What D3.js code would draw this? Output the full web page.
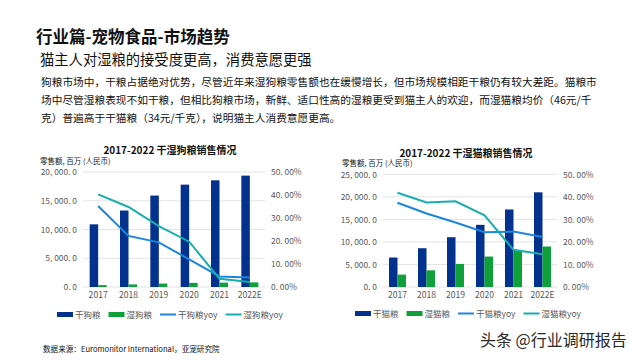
<!DOCTYPE html>
<html><head><meta charset="utf-8">
<script src="https://cdn.jsdelivr.net/npm/d3@7"></script>
<style>
html,body{margin:0;padding:0;background:#fff;}
svg{display:block;font-family:"Noto Sans CJK SC","Noto Sans",sans-serif;}
</style></head>
<body><svg id="c" width="640" height="360"></svg>
<script>
// ---- Data ----
const years = ["2017", "2018", "2019", "2020", "2021", "2022E"];
const dryDog = [10900, 13300, 15900, 17800, 18550, 19370];
const wetDog = [330, 450, 600, 720, 760, 800];
const dryDogYoy = [35.2, 22.2, 19.4, 12.0, 4.6, 4.1];
const wetDogYoy = [40.3, 34.8, 26.5, 19.7, 3.6, 2.2];
const dryCat = [6540, 8600, 11050, 13790, 17200, 21000];
const wetCat = [2750, 3700, 5120, 6750, 8000, 8980];
const dryCatYoy = [37.4, 32.6, 28.6, 24.3, 24.6, 22.2];
const wetCatYoy = [41.8, 37.5, 38.0, 31.8, 16.5, 14.5];
const dogLeftTicks = [0, 5000, 10000, 15000, 20000];
const catLeftTicks = [0, 5000, 10000, 15000, 20000, 25000];
const rightTicks = [0, 10, 20, 30, 40, 50];
const dogLegend = ["干狗粮", "湿狗粮", "干狗粮yoy", "湿狗粮yoy"];
const catLegend = ["干猫粮", "湿猫粮", "干猫粮yoy", "湿猫粮yoy"];
const pageTitle = "行业篇-宠物食品-市场趋势";
const subTitle = "猫主人对湿粮的接受度更高，消费意愿更强";
const paragraph = [
  "狗粮市场中，干粮占据绝对优势，尽管近年来湿狗粮零售额也在缓慢增长，但市场规模相距干粮仍有较大差距。猫粮市",
  "场中尽管湿粮表现不如干粮，但相比狗粮市场，新鲜、适口性高的湿粮更受到猫主人的欢迎，而湿猫粮均价（46元/千",
  "克）普遍高于干猫粮（34元/千克），说明猫主人消费意愿更高。"
];
const source = "数据来源：Euromonitor International，亚宠研究院";
const watermark = "头条 @行业调研报告";

const C_DRY = "#02318e", C_WET = "#0ea13a", C_DRYY = "#1b86dc", C_WETY = "#19adae";
const GRAY = "#595959";

const svg = d3.select("#c");

svg.append("text").attr("x", 36).attr("y", 43).attr("font-size", 16.5).attr("font-weight", "bold")
  .attr("fill", "#111").text(pageTitle);
svg.append("text").attr("x", 40).attr("y", 65).attr("font-size", 14.3)
  .attr("fill", "#111").text(subTitle);
paragraph.forEach((t, i) => {
  svg.append("text").attr("x", 41).attr("y", 85.5 + i * 18).attr("font-size", 10.7)
    .attr("fill", "#111").text(t);
});
svg.append("text").attr("x", 43).attr("y", 352).attr("font-size", 7.6).attr("fill", "#111").text(source);
svg.append("text").attr("x", 480).attr("y", 346).attr("font-size", 16).attr("fill", "#2a2a2a").text(watermark);

function drawChart(cfg) {
  const g = svg.append("g");
  const x = d3.scaleBand().domain(years).range([cfg.x0, cfg.x1]);
  const y = d3.scaleLinear().domain([0, cfg.yMax]).range([287, cfg.yTop]);
  const y2 = d3.scaleLinear().domain([0, 50]).range([287, cfg.yTop]);

  g.append("text").attr("x", cfg.titleX).attr("y", cfg.titleY).attr("text-anchor", "middle")
    .attr("font-size", 10).attr("font-weight", "bold").attr("fill", "#111").text(cfg.title);
  g.append("text").attr("x", cfg.unitX).attr("y", cfg.unitY).attr("font-size", 7.5)
    .attr("fill", "#222").text("零售额, 百万 (人民币)");

  // grid
  g.selectAll(".grid").data(cfg.leftTicks).join("line")
    .attr("x1", cfg.x0).attr("x2", cfg.x1).attr("y1", d => y(d)).attr("y2", d => y(d))
    .attr("stroke", "#e3e3e3").attr("stroke-width", 1);

  // left axis
  const ya = d3.axisLeft(y).tickValues(cfg.leftTicks).tickSize(0).tickPadding(0)
    .tickFormat(d => d3.format(",.1f")(d).replace(",", ", ").replace(".", ". "));
  const yg = g.append("g").attr("transform", `translate(${cfg.x0 - 6},0)`).call(ya);
  yg.select(".domain").remove();
  yg.selectAll("text").attr("font-size", 8.4).attr("fill", GRAY)
    .attr("font-family", "'Noto Sans CJK SC',sans-serif");

  // right axis
  const ya2 = d3.axisRight(y2).tickValues(rightTicks).tickSize(0).tickPadding(0)
    .tickFormat(d => d3.format(".2f")(d).replace(".", ". ") + "%");
  const yg2 = g.append("g").attr("transform", `translate(${cfg.x1 + 6},0)`).call(ya2);
  yg2.select(".domain").remove();
  yg2.selectAll("text").attr("font-size", 8.4).attr("fill", GRAY)
    .attr("font-family", "'Noto Sans CJK SC',sans-serif");

  // x axis
  const xa = d3.axisBottom(x).tickSize(0).tickPadding(0);
  const xg = g.append("g").attr("transform", `translate(0,${292})`).call(xa);
  xg.select(".domain").remove();
  xg.selectAll("text").attr("font-size", 8.6).attr("fill", GRAY).attr("dy", "0.75em")
    .attr("font-family", "'Noto Sans CJK SC',sans-serif");

  const bw = cfg.bw;
  g.selectAll(".dry").data(years).join("rect")
    .attr("x", d => x(d) + x.bandwidth() / 2 - bw).attr("width", bw)
    .attr("y", (d, i) => y(cfg.dry[i])).attr("height", (d, i) => y(0) - y(cfg.dry[i]))
    .attr("fill", C_DRY);
  g.selectAll(".wet").data(years).join("rect")
    .attr("x", d => x(d) + x.bandwidth() / 2).attr("width", bw)
    .attr("y", (d, i) => y(cfg.wet[i])).attr("height", (d, i) => y(0) - y(cfg.wet[i]))
    .attr("fill", C_WET);

  const line = d3.line().x((d, i) => x(years[i]) + x.bandwidth() / 2).y(d => y2(d));
  g.append("path").datum(cfg.dryY).attr("d", line).attr("fill", "none")
    .attr("stroke", C_DRYY).attr("stroke-width", 2);
  g.append("path").datum(cfg.wetY).attr("d", line).attr("fill", "none")
    .attr("stroke", C_WETY).attr("stroke-width", 2);

  // legend
  const colors = [C_DRY, C_WET, C_DRYY, C_WETY];
  let lx = cfg.legX;
  const ly = cfg.legY;
  cfg.legend.forEach((name, i) => {
    if (i < 2) {
      g.append("rect").attr("x", lx).attr("y", ly - 2.5).attr("width", 16).attr("height", 5).attr("fill", colors[i]);
    } else {
      g.append("line").attr("x1", lx).attr("x2", lx + 16).attr("y1", ly).attr("y2", ly)
        .attr("stroke", colors[i]).attr("stroke-width", 2);
    }
    const t = g.append("text").attr("x", lx + 18).attr("y", ly + 3).attr("font-size", 8.5)
      .attr("fill", GRAY).text(name);
    lx += 18 + t.node().getComputedTextLength() + 8;
  });
}

drawChart({
  title: "2017-2022  干湿狗粮销售情况", titleX: 170, titleY: 154, unitX: 40, unitY: 163.5,
  x0: 83, x1: 265, yTop: 172, yMax: 20000, leftTicks: dogLeftTicks,
  dry: dryDog, wet: wetDog, dryY: dryDogYoy, wetY: wetDogYoy, bw: 8.5,
  legend: dogLegend, legX: 57, legY: 314.5
});
drawChart({
  title: "2017-2022  干湿猫粮销售情况", titleX: 466, titleY: 157, unitX: 342, unitY: 166,
  x0: 383, x1: 557, yTop: 174.3, yMax: 25000, leftTicks: catLeftTicks,
  dry: dryCat, wet: wetCat, dryY: dryCatYoy, wetY: wetCatYoy, bw: 8.5,
  legend: catLegend, legX: 355, legY: 313.5
});
</script>
</body></html>
